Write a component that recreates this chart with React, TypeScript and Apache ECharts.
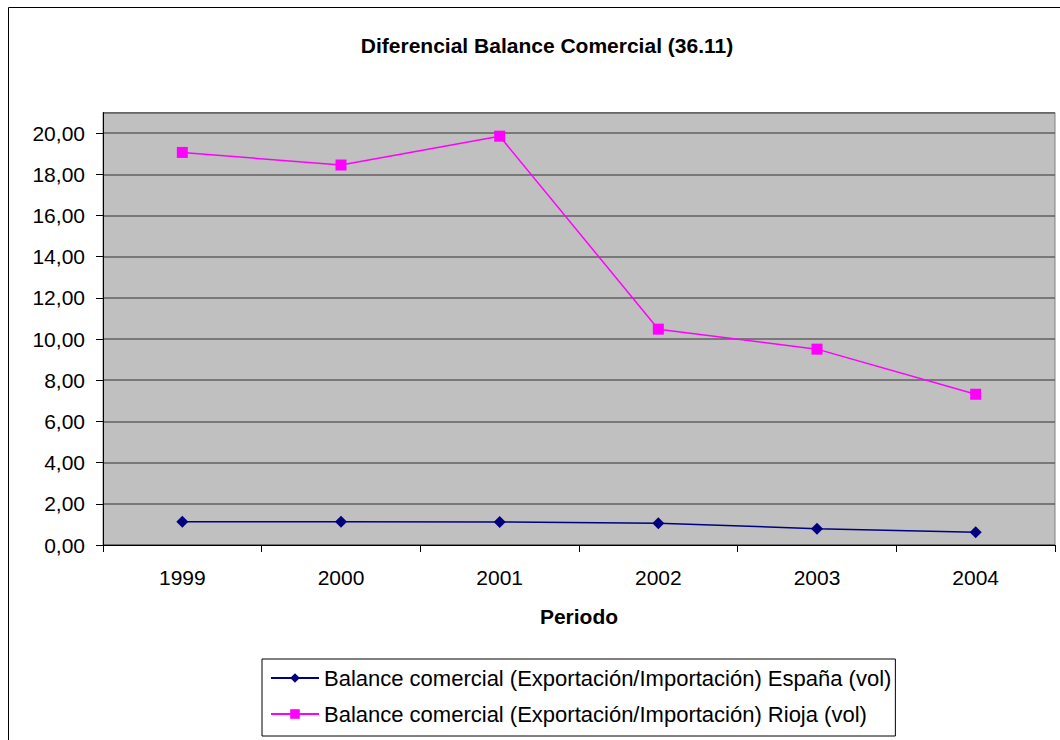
import React, { useEffect, useRef } from "react";
import * as echarts from "echarts";

const categories = ["1999", "2000", "2001", "2002", "2003", "2004"];
const espana = [1.13, 1.13, 1.12, 1.06, 0.79, 0.62];
const rioja = [19.06, 18.45, 19.85, 10.48, 9.51, 7.32];
const seriesNames = [
  "Balance comercial (Exportación/Importación) España (vol)",
  "Balance comercial (Exportación/Importación) Rioja (vol)",
];
const title = "Diferencial Balance Comercial (36.11)";
const xName = "Periodo";

const FONT = "'Liberation Sans', Arial, sans-serif";

export default function App() {
  const ref = useRef<HTMLDivElement>(null);
  useEffect(() => {
    if (!ref.current) return;
    const chart = echarts.init(ref.current, null, { renderer: "svg" });
    chart.setOption({
      animation: false,
      backgroundColor: "#ffffff",
      textStyle: { fontFamily: FONT },
      title: {
        text: title,
        left: 542,
        textAlign: "center",
        top: 30,
        textStyle: { fontFamily: FONT, fontSize: 21, fontWeight: "bold", color: "#000" },
      },
      graphic: [
        {
          type: "rect",
          shape: { x: 8.5, y: 7.5, width: 1100, height: 800 },
          style: { fill: "none", stroke: "#000", lineWidth: 1 },
          silent: true,
        },
      ],
      grid: {
        left: 103,
        right: 5,
        top: 112.5,
        bottom: 195,
        show: true,
        backgroundColor: "#C0C0C0",
        borderColor: "#808080",
        borderWidth: 1,
      },
      legend: {
        orient: "vertical",
        left: 262,
        top: 659,
        padding: [8, 4, 11, 8],
        itemGap: 14,
        itemWidth: 48,
        itemHeight: 12,
        borderColor: "#000",
        borderWidth: 1,
        backgroundColor: "#fff",
        textStyle: { fontFamily: FONT, fontSize: 22, color: "#000" },
        data: seriesNames,
      },
      xAxis: {
        type: "category",
        data: categories,
        boundaryGap: true,
        name: xName,
        nameLocation: "middle",
        nameGap: 61,
        nameTextStyle: { fontFamily: FONT, fontSize: 21, fontWeight: "bold", color: "#000" },
        axisLine: { lineStyle: { color: "#000", width: 1 } },
        axisTick: { show: true, length: 7, alignWithLabel: false, lineStyle: { color: "#000" } },
        axisLabel: { fontFamily: FONT, fontSize: 21, color: "#000", margin: 22 },
        splitLine: { show: false },
      },
      yAxis: {
        type: "value",
        min: 0,
        max: 21,
        interval: 2,
        axisLine: { show: true, lineStyle: { color: "#000", width: 1 } },
        axisTick: { show: true, length: 7, lineStyle: { color: "#000" } },
        axisLabel: {
          fontFamily: FONT,
          fontSize: 21,
          color: "#000",
          margin: 18,
          showMaxLabel: false,
          formatter: (v: number) => (v > 20 ? "" : v.toFixed(2).replace(".", ",")),
        },
        splitLine: { show: true, lineStyle: { color: "#606060", width: 1.5 } },
      },
      series: [
        {
          name: seriesNames[0],
          type: "line",
          data: espana,
          symbol: "diamond",
          symbolSize: 12,
          color: "#000080",
          lineStyle: { color: "#000080", width: 1.5 },
          itemStyle: { color: "#000080" },
        },
        {
          name: seriesNames[1],
          type: "line",
          data: rioja,
          symbol: "rect",
          symbolSize: 11,
          color: "#FF00FF",
          lineStyle: { color: "#FF00FF", width: 1.5 },
          itemStyle: { color: "#FF00FF" },
        },
      ],
    });
    return () => chart.dispose();
  }, []);
  return (
    <div
      ref={ref}
      style={{ position: "absolute", left: 0, top: 0, width: 1060, height: 740 }}
    />
  );
}
